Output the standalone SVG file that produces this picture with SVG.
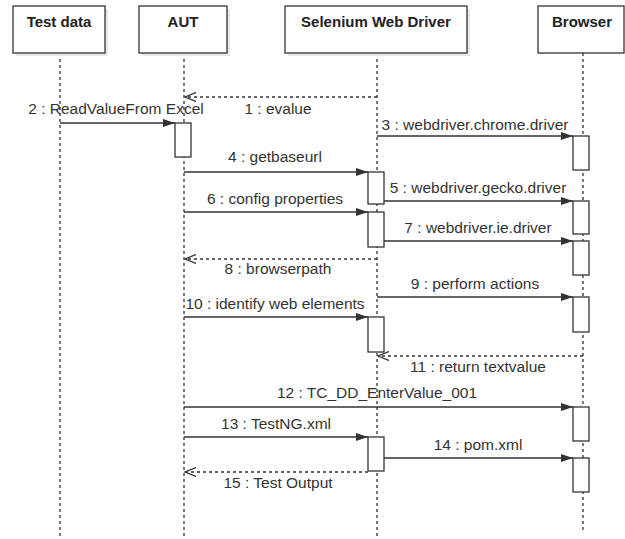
<svg xmlns="http://www.w3.org/2000/svg" width="625" height="539" viewBox="0 0 625 539">
<style>
.box{fill:#fff;stroke:#333;stroke-width:1.3}
.shadow{fill:#e8e8e8}
.head{font-family:"Liberation Sans",Arial,sans-serif;font-size:15px;font-weight:bold;fill:#222;text-anchor:middle}
.life{stroke:#333;stroke-width:1.3;stroke-dasharray:3 3;fill:none}
.act{fill:#fff;stroke:#333;stroke-width:1.3}
.msg{stroke:#333;stroke-width:1.3;fill:none;marker-end:url(#filled)}
.ret{stroke:#333;stroke-width:1.3;fill:none;stroke-dasharray:3 3;marker-end:url(#open)}
.lbl{font-family:"Liberation Sans",Arial,sans-serif;font-size:15.5px;fill:#333;text-anchor:middle}
</style>
<defs>
<marker id="filled" viewBox="0 0 12 8" refX="12" refY="4" markerWidth="12" markerHeight="8" markerUnits="userSpaceOnUse" orient="auto"><path d="M0,0 L12,4 L0,8 z" fill="#333"/></marker>
<marker id="open" viewBox="0 0 12 10" refX="11" refY="5" markerWidth="12" markerHeight="10" markerUnits="userSpaceOnUse" orient="auto"><path d="M0,0.5 L11,5 L0,9.5" fill="none" stroke="#333" stroke-width="1.3"/></marker>
</defs>
<rect width="625" height="539" fill="#fff"/>

<g id="lifelines">
<line class="life" x1="60" y1="53" x2="60" y2="539"/>
<line class="life" x1="184" y1="53" x2="184" y2="539"/>
<line class="life" x1="377" y1="53" x2="377" y2="539"/>
<line class="life" x1="583" y1="53" x2="583" y2="531"/>
</g>

<g id="node-testdata">
<rect class="shadow" x="16" y="9" width="92" height="47"/>
<rect class="box" x="13" y="6" width="92" height="47"/>
<text class="head" x="59" y="27">Test data</text>
</g>
<g id="node-aut">
<rect class="shadow" x="142" y="9" width="88" height="47"/>
<rect class="box" x="139" y="6" width="88" height="47"/>
<text class="head" x="183" y="27">AUT</text>
</g>
<g id="node-selenium">
<rect class="shadow" x="288" y="9" width="182" height="47"/>
<rect class="box" x="285" y="6" width="182" height="47"/>
<text class="head" x="376" y="27">Selenium Web Driver</text>
</g>
<g id="node-browser">
<rect class="box" x="538" y="6" width="86" height="47"/>
<text class="head" x="582" y="27">Browser</text>
</g>

<g id="activations">
<rect class="act" x="175" y="123" width="16" height="34"/>
<rect class="act" x="573" y="136" width="16" height="34"/>
<rect class="act" x="368" y="172" width="16" height="32"/>
<rect class="act" x="573" y="201" width="16" height="33"/>
<rect class="act" x="368" y="212" width="16" height="35"/>
<rect class="act" x="573" y="241" width="16" height="34"/>
<rect class="act" x="573" y="297" width="16" height="35"/>
<rect class="act" x="368" y="317" width="16" height="35"/>
<rect class="act" x="573" y="407" width="16" height="34"/>
<rect class="act" x="368" y="437" width="16" height="34"/>
<rect class="act" x="573" y="458" width="16" height="34"/>
</g>

<g id="connectors">
<line class="ret" x1="377" y1="97" x2="185" y2="97"/>
<line class="msg" x1="60" y1="123" x2="175" y2="123"/>
<line class="msg" x1="377" y1="136" x2="573" y2="136"/>
<line class="msg" x1="184" y1="172" x2="368" y2="172"/>
<line class="msg" x1="384" y1="201" x2="573" y2="201"/>
<line class="msg" x1="184" y1="212" x2="368" y2="212"/>
<line class="msg" x1="384" y1="241" x2="573" y2="241"/>
<line class="ret" x1="377" y1="259" x2="185" y2="259"/>
<line class="msg" x1="377" y1="297" x2="573" y2="297"/>
<line class="msg" x1="184" y1="317" x2="368" y2="317"/>
<line class="ret" x1="583" y1="356" x2="378" y2="356"/>
<line class="msg" x1="184" y1="407" x2="573" y2="407"/>
<line class="msg" x1="184" y1="437" x2="368" y2="437"/>
<line class="msg" x1="384" y1="458" x2="573" y2="458"/>
<line class="ret" x1="368" y1="472" x2="185" y2="472"/>
</g>

<g id="labels">
<text class="lbl" x="278" y="114">1 : evalue</text>
<text class="lbl" x="116" y="114">2 : ReadValueFrom Excel</text>
<text class="lbl" x="475" y="130">3 : webdriver.chrome.driver</text>
<text class="lbl" x="275" y="162">4 : getbaseurl</text>
<text class="lbl" x="478" y="193">5 : webdriver.gecko.driver</text>
<text class="lbl" x="275" y="204">6 : config properties</text>
<text class="lbl" x="478" y="233">7 : webdriver.ie.driver</text>
<text class="lbl" x="278" y="274">8 : browserpath</text>
<text class="lbl" x="475" y="289">9 : perform actions</text>
<text class="lbl" x="275" y="309">10 : identify web elements</text>
<text class="lbl" x="478" y="372">11 : return textvalue</text>
<text class="lbl" x="377" y="398">12 : TC_DD_EnterValue_001</text>
<text class="lbl" x="276" y="429">13 : TestNG.xml</text>
<text class="lbl" x="478" y="450">14 : pom.xml</text>
<text class="lbl" x="278" y="488">15 : Test Output</text>
</g>
</svg>
